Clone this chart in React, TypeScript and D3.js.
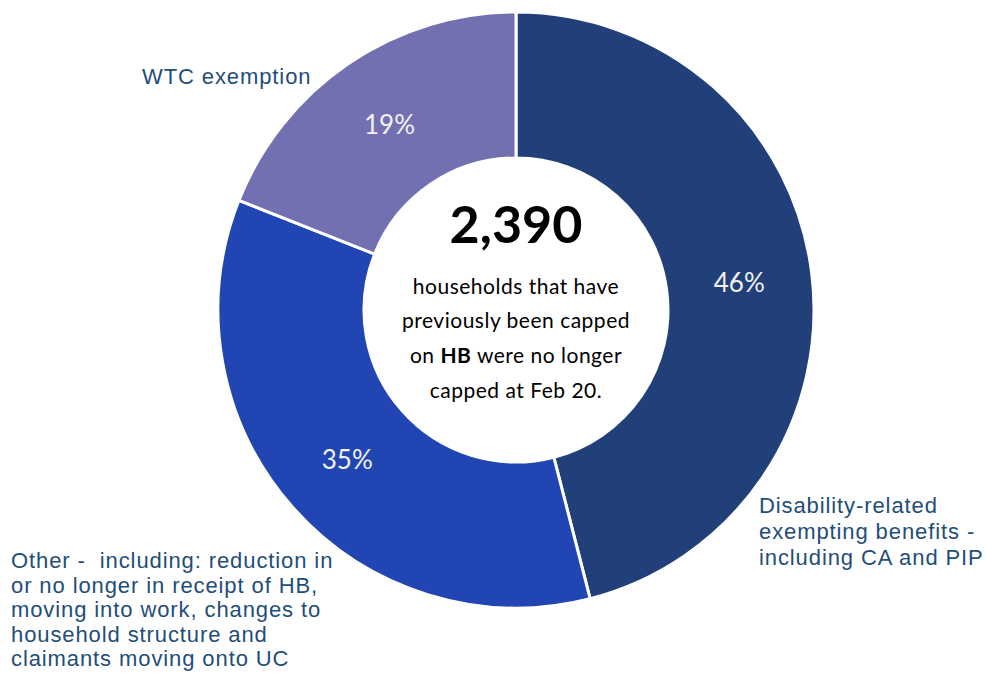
import React from "react";
import * as d3 from "d3";

const categories = ["Disability-related", "Other", "WTC exemption"];
const values = [46, 35, 19];
const sliceColors = ["#213F79", "#2145B2", "#7370B2"];
const pctLabels = ["46%", "35%", "19%"];

const totalLabel = "2,390";

const disabilityLines = ["Disability-related", "exempting benefits -", "including CA and PIP"];
const otherLines = [
  "Other -  including: reduction in",
  "or no longer in receipt of HB,",
  "moving into work, changes to",
  "household structure and",
  "claimants moving onto UC",
];
const wtcLines = ["WTC exemption"];

const W = 986;
const H = 674;
const cx = 516;
const cy = 310;
const outerR = 298;
const innerR = 152;

export default function App() {
  const pie = d3.pie<number>().sort(null).value((d) => d);
  const arcs = pie(values);
  const arc = d3.arc<d3.PieArcDatum<number>>().innerRadius(innerR).outerRadius(outerR);
  const labelArc = d3.arc<d3.PieArcDatum<number>>().innerRadius(225).outerRadius(225);
  const labelColor = "#1F4E79";
  const outFont = "'Liberation Sans', Arial, sans-serif";
  const inFont = "Lato, 'Open Sans', sans-serif";

  return (
    <svg
      width={W}
      height={H}
      style={{ position: "absolute", left: 0, top: 0, background: "#fff" }}
    >
      <g transform={`translate(${cx},${cy})`}>
        {arcs.map((a, i) => (
          <path key={categories[i]} d={arc(a) || ""} fill={sliceColors[i]} stroke="#fff" strokeWidth={3} />
        ))}
        {arcs.map((a, i) => {
          const [x, y] = labelArc.centroid(a);
          return (
            <text
              key={"p" + i}
              x={x}
              y={y}
              textAnchor="middle"
              dominantBaseline="central"
              fill="#F2F2F2"
              fontFamily={inFont}
              fontSize={26}
            >
              {pctLabels[i]}
            </text>
          );
        })}
        <text x={0} y={-67} textAnchor="middle" fontFamily={inFont} fontWeight="bold" fontSize={52} fill="#000">
          {totalLabel}
        </text>
        <g fontFamily={inFont} fontSize={21} fill="#000" textAnchor="middle" letterSpacing={0.5}>
          <text x={0} y={-16}>households that have</text>
          <text x={0} y={18}>previously been capped</text>
          <text x={0} y={53}>
            on <tspan fontWeight="bold">HB</tspan> were no longer
          </text>
          <text x={0} y={88}>capped at Feb 20.</text>
        </g>
      </g>
      <g fontFamily={outFont} fontSize={22} fill={labelColor} letterSpacing={0.9}>
        {wtcLines.map((t, i) => (
          <text key={t} x={142} y={84 + i * 25}>{t}</text>
        ))}
        {disabilityLines.map((t, i) => (
          <text key={t} x={759} y={513 + i * 26}>{t}</text>
        ))}
        {otherLines.map((t, i) => (
          <text key={t} x={11} y={568 + i * 24.6} style={{ whiteSpace: "pre" }}>{t}</text>
        ))}
      </g>
    </svg>
  );
}
